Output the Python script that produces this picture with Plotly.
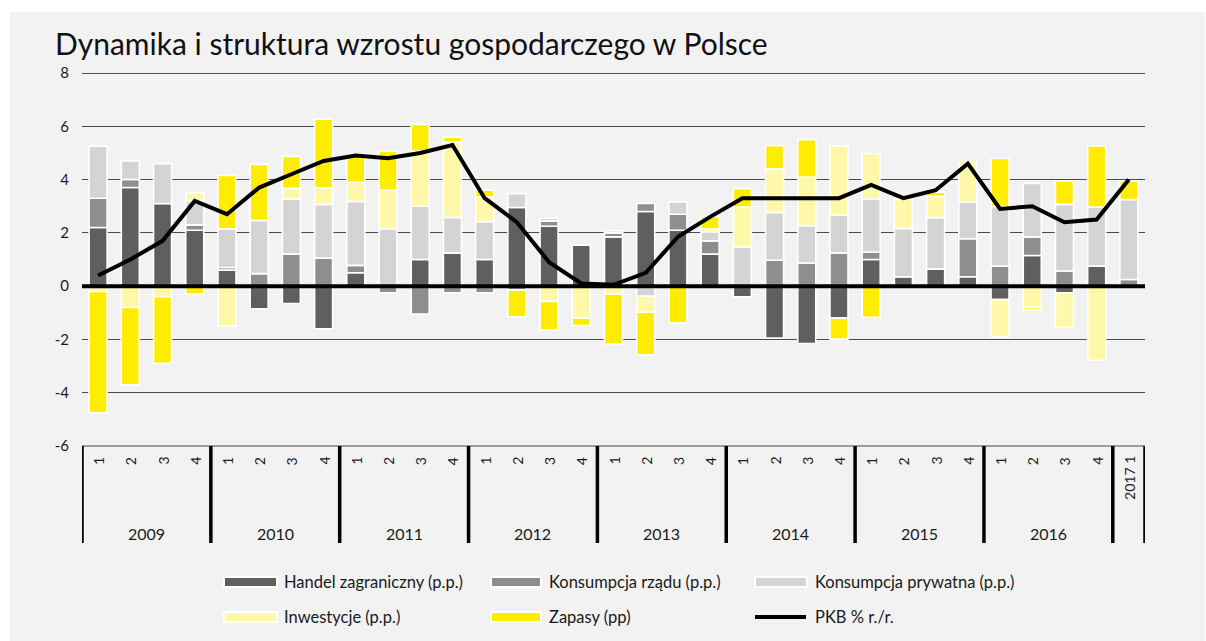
import plotly.graph_objects as go

years = ["2009", "2010", "2011", "2012", "2013", "2014", "2015", "2016"]
quarters = ["1", "2", "3", "4"]
categories = [f"{y} {q}" for y in years for q in quarters] + ["2017 1"]
y_ticks = [-6, -4, -2, 0, 2, 4, 6, 8]
y_tick_text = ["-6", "-4", "-2", "0", "2", "4", "6", "8"]

handel = [2.2, 3.7, 3.1, 2.1, 0.6, -0.85, -0.65, -1.6,
          0.5, 0.0, 1.0, 1.25, 1.0, 2.95, 2.25, 1.55,
          1.85, 2.8, 2.1, 1.2, -0.4, -1.95, -2.15, -1.2,
          1.0, 0.35, 0.65, 0.35, -0.5, 1.15, -0.25, 0.75, 0.0]
rzad = [1.1, 0.3, 0.0, 0.2, 0.1, 0.47, 1.2, 1.05,
        0.28, -0.25, -1.05, -0.25, -0.25, -0.15, 0.2, 0.0,
        0.15, 0.3, 0.6, 0.5, 0.0, 0.97, 0.87, 1.25,
        0.28, 0.0, 0.0, 1.43, 0.75, 0.7, 0.57, 0.0, 0.25]
prywatna = [1.95, 0.7, 1.5, 0.9, 1.45, 2.0, 2.07, 2.02,
            2.4, 2.16, 2.0, 1.33, 1.42, 0.53, 0.1, 0.0,
            0.08, -0.38, 0.47, 0.34, 1.47, 1.8, 1.4, 1.42,
            2.0, 1.82, 1.92, 1.38, 2.24, 2.0, 2.5, 2.22, 3.0]
inwestycje = [-0.2, -0.8, -0.4, 0.3, -1.5, 0.0, 0.4, 0.62,
              0.72, 1.44, 2.07, 2.83, 0.93, 0.0, -0.57, -1.2,
              -0.3, -0.6, 0.0, 0.1, 1.5, 1.63, 1.82, 2.6,
              1.7, 1.09, 0.8, 1.42, -1.41, -0.79, -1.3, -2.78, 0.0]
zapasy = [-4.55, -2.9, -2.5, -0.3, 2.0, 2.1, 1.2, 2.58,
          0.98, 1.47, 1.0, 0.18, 0.25, -1.0, -1.08, -0.28,
          -1.87, -1.6, -1.38, 0.48, 0.69, 0.87, 1.41, -0.79,
          -1.17, 0.0, 0.16, 0.09, 1.8, -0.09, 0.88, 2.29, 0.7]
pkb = [0.4, 1.0, 1.7, 3.2, 2.7, 3.7, 4.2, 4.7,
       4.9, 4.8, 5.0, 5.3, 3.3, 2.4, 0.9, 0.1,
       0.05, 0.5, 1.85, 2.6, 3.3, 3.3, 3.3, 3.3,
       3.8, 3.3, 3.6, 4.6, 2.9, 3.0, 2.4, 2.5, 4.0]

series_names = ["Handel zagraniczny (p.p.)", "Konsumpcja rządu (p.p.)",
                "Konsumpcja prywatna (p.p.)", "Inwestycje (p.p.)", "Zapasy (pp)"]
line_name = "PKB % r./r."
colors = ["#5f5f5f", "#8e8e8e", "#d4d4d4", "#fff8a8", "#ffec00"]

FONT = "Lato"
W, H = 1206, 641
L, R, T, B = 82, 1145, 73, 446
pw, ph = R - L, B - T


def px(x):
    return (x - L) / pw


def py(y):
    return (B - y) / ph


fig = go.Figure()
for name, vals, col in zip(series_names, [handel, rzad, prywatna, inwestycje, zapasy], colors):
    fig.add_trace(go.Bar(x=categories, y=vals, name=name, marker_color=col,
                         marker_line_color="white", marker_line_width=1.6,
                         showlegend=False))
fig.add_trace(go.Scatter(x=categories, y=pkb, name=line_name, mode="lines",
                         line=dict(color="black", width=4), showlegend=False))

shapes = []
# grey panel
shapes.append(dict(type="rect", xref="paper", yref="paper", x0=px(10), x1=px(1205),
                   y0=py(650), y1=py(12), fillcolor="#f2f2f2", line_width=0, layer="below"))
# top gridline
shapes.append(dict(type="line", xref="paper", yref="y", x0=0, x1=1, y0=8, y1=8,
                   line=dict(color="#1a1a1a", width=1.5), layer="below"))
# zero line
shapes.append(dict(type="line", xref="paper", yref="y", x0=0, x1=1, y0=0, y1=0,
                   line=dict(color="black", width=4), layer="above"))
# axis line at bottom
shapes.append(dict(type="line", xref="paper", yref="paper", x0=0, x1=1, y0=0, y1=0,
                   line=dict(color="#7f7f7f", width=1.5)))
# year dividers
bounds = [-0.5 + 4 * i for i in range(9)] + [32.5]
for b in bounds:
    shapes.append(dict(type="line", xref="x", yref="paper", x0=b, x1=b,
                       y0=0, y1=py(543), line=dict(color="black", width=3.5)))

annotations = []
for i, c in enumerate(categories[:-1]):
    annotations.append(dict(x=c, y=py(461), xref="x", yref="paper", text=c.split()[1],
                            showarrow=False, textangle=-90, yanchor="middle",
                            font=dict(family=FONT, size=14, color="#1a1a1a")))
for k, yr in enumerate(years):
    annotations.append(dict(x=4 * k + 1.5, y=py(533), xref="x", yref="paper", text=yr,
                            showarrow=False, yanchor="middle",
                            font=dict(family=FONT, size=16, color="#1a1a1a")))
annotations.append(dict(x=categories[-1], y=py(478), xref="x", yref="paper", text="2017 1",
                        showarrow=False, textangle=-90, yanchor="middle",
                        font=dict(family=FONT, size=14, color="#1a1a1a")))

# custom legend
leg = [(series_names[0], colors[0], 224, 277, 282, 582),
       (series_names[1], colors[1], 491, 541, 547, 582),
       (series_names[2], colors[2], 755, 807, 813, 582),
       (series_names[3], colors[3], 224, 277, 282, 617),
       (series_names[4], colors[4], 491, 541, 547, 617)]
for name, col, x0, x1, tx, yc in leg:
    shapes.append(dict(type="rect", xref="paper", yref="paper", x0=px(x0), x1=px(x1),
                       y0=py(yc + 5), y1=py(yc - 5), fillcolor=col,
                       line=dict(color="white", width=2)))
    annotations.append(dict(x=px(tx), y=py(yc), xref="paper", yref="paper", text=name,
                            showarrow=False, xanchor="left", yanchor="middle",
                            font=dict(family=FONT, size=16.5, color="#1a1a1a")))
shapes.append(dict(type="line", xref="paper", yref="paper", x0=px(755), x1=px(806),
                   y0=py(617), y1=py(617), line=dict(color="black", width=4)))
annotations.append(dict(x=px(813), y=py(617), xref="paper", yref="paper", text=line_name,
                        showarrow=False, xanchor="left", yanchor="middle",
                        font=dict(family=FONT, size=16.5, color="#1a1a1a")))

fig.update_layout(
    width=W, height=H,
    margin=dict(l=L, r=W - R, t=T, b=H - B, pad=0),
    paper_bgcolor="white", plot_bgcolor="rgba(0,0,0,0)",
    barmode="relative", bargap=0.44,
    title=dict(text="Dynamika i struktura wzrostu gospodarczego w Polsce",
               x=55 / W, xanchor="left", xref="container",
               y=1 - 44 / H, yanchor="middle", yref="container",
               font=dict(family=FONT, size=30, color="#111111")),
    font=dict(family=FONT, size=15, color="#1a1a1a"),
    xaxis=dict(showticklabels=False, showgrid=False, zeroline=False,
               range=[-0.5, 32.5], fixedrange=True),
    yaxis=dict(range=[-6, 8], tickmode="array", tickvals=y_ticks, ticktext=y_tick_text,
               showgrid=True, gridcolor="#4a4a4a",
               gridwidth=1.3, zeroline=False, ticks="", ticklabelstandoff=12,
               tickfont=dict(family=FONT, size=15, color="#1a1a1a")),
    shapes=shapes, annotations=annotations,
)

fig.write_html("out.html", config={"displayModeBar": False},
               post_script="document.body.style.margin='0px';")
